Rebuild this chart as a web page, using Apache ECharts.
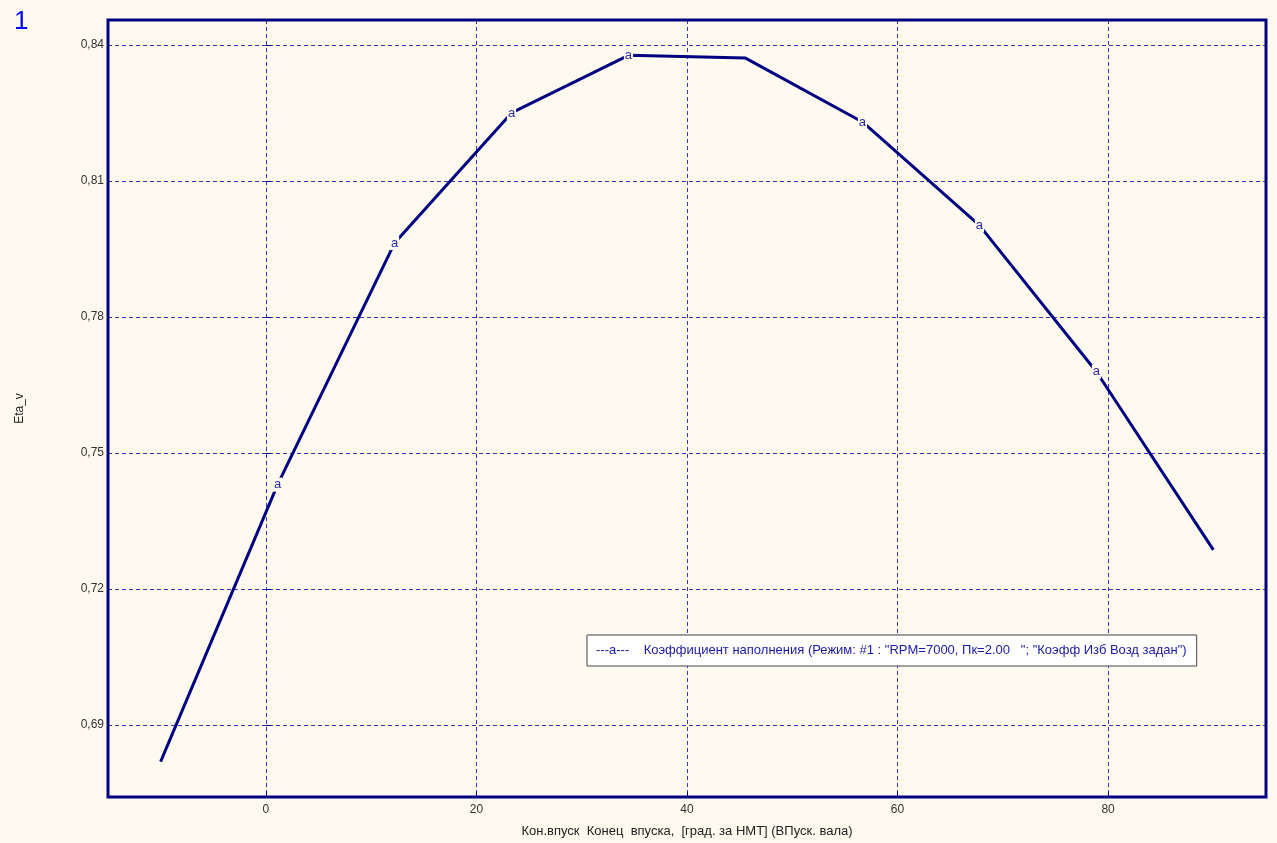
<!DOCTYPE html>
<html>
<head>
<meta charset="utf-8">
<script src="https://cdn.jsdelivr.net/npm/echarts@6/dist/echarts.min.js"></script>
<style>
  html, body { margin: 0; padding: 0; background: #fefaef; }
  #chart { width: 1277px; height: 843px; }
</style>
</head>
<body>
<div id="chart"></div>
<script>
// Intake closing angle, degrees after BDC
const intakeClose = [-10, 1.11, 12.22, 23.33, 34.44, 45.56, 56.67, 67.78, 78.89, 90];
// Volumetric efficiency Eta_v
const etaV = [0.6819, 0.7430, 0.7963, 0.8250, 0.8377, 0.8371, 0.8230, 0.8002, 0.7679, 0.7286];
// Points carrying the series marker letter
const markerIdx = [1, 2, 3, 4, 6, 7, 8];
const xTicks = [0, 20, 40, 60, 80];
const yTicks = [0.69, 0.72, 0.75, 0.78, 0.81, 0.84];
const seriesName = 'Коэффициент наполнения (Режим: #1 : "RPM=7000, Пк=2.00   "; "Коэфф Изб Возд задан")';
const xTitle = 'Кон.впуск  Конец  впуска,  [град. за НМТ] (ВПуск. вала)';
const yTitle = 'Eta_v';

const BG = '#fefaef';
const NAVY = '#000080';
const GRID = '#3535c0';
const FONT = 'Liberation Sans, Arial, sans-serif';

const chart = echarts.init(document.getElementById('chart'));

const points = intakeClose.map((x, i) => {
  const item = { value: [x, etaV[i]] };
  if (markerIdx.includes(i)) {
    item.label = { show: true };
  }
  return item;
});

chart.setOption({
  backgroundColor: BG,
  animation: false,
  grid: { left: 108, right: 11, top: 20, bottom: 46, containLabel: false },
  graphic: [
    { type: 'text', left: 14, top: 9, style: { text: '1', fill: '#0000ff', font: '26px ' + FONT } }
  ],
  legend: {
    left: 587, top: 635,
    itemWidth: 0, itemHeight: 0,
    icon: 'none',
    backgroundColor: '#ffffff',
    borderColor: '#444',
    borderWidth: 1,
    borderRadius: 0,
    padding: [9, 10, 9, 4],
    data: [{ name: seriesName, icon: 'none' }],
    formatter: (n) => '---a---    ' + n,
    textStyle: { color: '#1a1aa6', fontSize: 13, fontFamily: FONT }
  },
  xAxis: {
    type: 'value',
    min: -15, max: 95,
    name: xTitle,
    nameLocation: 'middle',
    nameGap: 28,
    nameTextStyle: { color: '#222', fontSize: 13, fontFamily: FONT },
    axisLine: { show: false },
    axisTick: { show: true, inside: true, length: 5, customValues: xTicks, lineStyle: { color: NAVY } },
    axisLabel: { customValues: xTicks, color: '#333', fontSize: 12, fontFamily: FONT, margin: 7 },
    splitLine: { show: true, lineStyle: { color: GRID, type: [4, 3], width: 1 } }
  },
  yAxis: {
    type: 'value',
    min: 0.6741, max: 0.8455,
    name: yTitle,
    nameLocation: 'middle',
    nameRotate: 90,
    nameGap: 82,
    nameTextStyle: { color: '#222', fontSize: 12, fontFamily: FONT },
    axisLine: { show: false },
    axisTick: { show: true, inside: true, length: 5, customValues: yTicks, lineStyle: { color: NAVY } },
    axisLabel: { customValues: yTicks, color: '#333', fontSize: 12, fontFamily: FONT, margin: 4,
      formatter: (v) => v.toFixed(2).replace('.', ',') },
    splitLine: { show: true, lineStyle: { color: GRID, type: [4, 3], width: 1 } }
  },
  series: [
    {
      name: seriesName,
      type: 'line',
      data: points,
      symbol: 'circle',
      symbolSize: 1,
      showSymbol: true,
      itemStyle: { color: 'rgba(0,0,0,0)' },
      lineStyle: { color: NAVY, width: 3 },
      label: {
        show: false,
        position: 'inside',
        formatter: 'a',
        color: '#2a2aa8',
        fontSize: 13,
        fontFamily: FONT,
        backgroundColor: BG,
        padding: [0, 1, 1, 1]
      },
      emphasis: { disabled: true },
      z: 5
    },
    {
      // plot frame
      type: 'line',
      data: [],
      markArea: {
        silent: true,
        itemStyle: { color: 'rgba(0,0,0,0)', borderColor: NAVY, borderWidth: 3 },
        data: [[{ coord: [-15, 0.6741] }, { coord: [95, 0.8455] }]]
      }
    }
  ]
});
</script>
</body>
</html>
